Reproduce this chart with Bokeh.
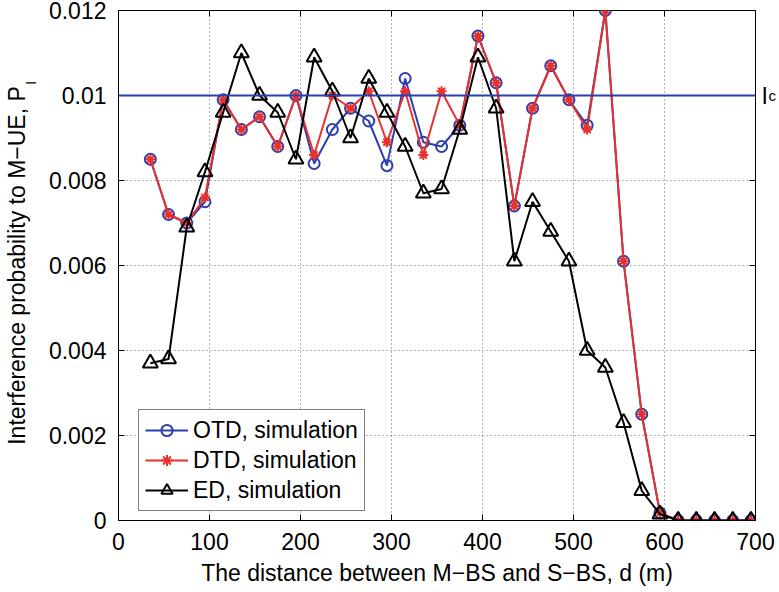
from bokeh.plotting import figure
from bokeh.models import FixedTicker, LinearAxis, Range1d, Span, CustomLabelingPolicy
from bokeh.embed import file_html
from bokeh.resources import INLINE

# ---------------- data ----------------
distance = [35, 55, 75, 95, 115, 135, 155, 175, 195, 215, 235, 255, 275, 295, 315, 335,
            355, 375, 395, 415, 435, 455, 475, 495, 515, 535, 555, 575, 595, 615, 635,
            655, 675, 695]

otd_sim = [0.0085, 0.0072, 0.0070, 0.0075, 0.0099, 0.0092, 0.0095, 0.0088, 0.0100, 0.0084,
           0.0092, 0.0097, 0.0094, 0.00835, 0.0104, 0.0089, 0.0088, 0.0093, 0.0114, 0.0103,
           0.0074, 0.0097, 0.0107, 0.0099, 0.0093, 0.0120, 0.0061, 0.0025, 0.00018, 0.0,
           0.0, 0.0, 0.0, 0.0]

dtd_sim = [0.0085, 0.0072, 0.0070, 0.0076, 0.0099, 0.0092, 0.0095, 0.0088, 0.0100, 0.0086,
           0.0100, 0.0097, 0.0101, 0.0089, 0.0101, 0.0086, 0.0101, 0.0093, 0.0114, 0.0103,
           0.0074, 0.0097, 0.0107, 0.0099, 0.0092, 0.0120, 0.0061, 0.0025, 0.00018, 0.0,
           0.0, 0.0, 0.0, 0.0]

ed_sim = [0.0037, 0.0038, 0.0069, 0.0082, 0.0096, 0.0110, 0.0100, 0.0096, 0.0085, 0.0109,
          0.0101, 0.0090, 0.0104, 0.0096, 0.0088, 0.0077, 0.0078, 0.0092, 0.0109, 0.0097,
          0.0061, 0.0075, 0.0068, 0.0061, 0.0040, 0.0036, 0.0023, 0.0007, 0.00015, 0.0,
          0.0, 0.0, 0.0, 0.0]

ic_threshold = 0.01
ic_label = "I"
ic_subscript = "c"

x_ticks = [0, 100, 200, 300, 400, 500, 600, 700]
x_tick_labels = ["0", "100", "200", "300", "400", "500", "600", "700"]
y_ticks = [0, 0.002, 0.004, 0.006, 0.008, 0.01, 0.012]
y_tick_labels = ["0", "0.002", "0.004", "0.006", "0.008", "0.01", "0.012"]

x_title = "The distance between M\u2212BS and S\u2212BS, d (m)"
y_title = "Interference probability to M\u2212UE, P"
y_title_subscript = "I"

series_names = ["OTD, simulation", "DTD, simulation", "ED, simulation"]

# ---------------- style ----------------
FONT = "Liberation Sans"
FS = "23px"
BLUE = "#2b3fae"
RED = "#e8302c"
BLACK = "#000000"

p = figure(width=779, height=592, output_backend="svg", toolbar_location=None,
           x_range=Range1d(x_ticks[0], x_ticks[-1]), y_range=Range1d(y_ticks[0], y_ticks[-1]),
           min_border_left=117, min_border_right=24, min_border_top=10,
           min_border_bottom=72)

p.background_fill_color = "white"
p.border_fill_color = "white"
p.outline_line_color = BLACK
p.outline_line_width = 1


def style_axis(ax, ticks, labels):
    ax.ticker = FixedTicker(ticks=ticks)
    ax.major_label_overrides = {t: l for t, l in zip(ticks, labels)}
    ax.major_tick_in = 6
    ax.major_tick_out = 0
    ax.minor_tick_line_color = None
    ax.major_label_text_font = FONT
    ax.major_label_text_font_size = FS
    ax.major_label_text_color = BLACK
    ax.axis_label_text_font = FONT
    ax.axis_label_text_font_size = FS
    ax.axis_label_text_font_style = "normal"
    ax.axis_label_text_color = BLACK
    ax.axis_line_color = BLACK
    ax.major_tick_line_color = BLACK


xax = p.xaxis[0]
yax = p.yaxis[0]
style_axis(xax, x_ticks, x_tick_labels)
style_axis(yax, y_ticks, y_tick_labels)
xax.axis_label = x_title
xax.major_label_standoff = 12
xax.axis_label_standoff = 7
yax.major_label_standoff = 12


def text_axis(ticks, labels, size, standoff, orientation="horizontal", baseline=None):
    ax = LinearAxis(ticker=FixedTicker(ticks=ticks),
                    major_label_overrides={t: l for t, l in zip(ticks, labels)},
                    axis_line_color=None, major_tick_line_color=None,
                    minor_tick_line_color=None, major_tick_in=0, major_tick_out=0,
                    major_label_standoff=standoff, major_label_text_font=FONT,
                    major_label_text_font_size=size, major_label_text_color=BLACK,
                    major_label_orientation=orientation)
    if baseline is not None:
        ax.major_label_text_baseline = baseline
    return ax


def tick_only_axis(ticks):
    # mirror axis: inward ticks only, no labels drawn
    return LinearAxis(ticker=FixedTicker(ticks=ticks), major_tick_in=6, major_tick_out=0,
                      minor_tick_line_color=None, axis_line_color=None,
                      major_tick_line_color=BLACK, major_label_standoff=0,
                      major_label_text_font_size="0px",
                      major_label_policy=CustomLabelingPolicy(
                          code="for (const i of indices) indices.unset(i); return indices"))


# y title built from two text-only axes so the subscript can sit beside it
y_mid = (y_ticks[0] + y_ticks[-1]) / 2
sub_axis = text_axis([0.0103], [y_title_subscript], "14px", 7, orientation="vertical")
title_axis = text_axis([y_mid], [y_title], FS, -10, orientation="vertical")
p.left = [yax, sub_axis, title_axis]

# mirror ticks on top and right
p.add_layout(tick_only_axis(x_ticks), "above")
p.add_layout(tick_only_axis(y_ticks), "right")

# I_c label on the right side
ic_axis = text_axis([ic_threshold], [ic_label], FS, 6)
ic_sub_axis = text_axis([ic_threshold], [ic_subscript], "15px", -2, baseline="top")
p.add_layout(ic_axis, "right")
p.add_layout(ic_sub_axis, "right")

# grid
for g in (p.xgrid[0], p.ygrid[0]):
    g.grid_line_color = BLACK
    g.grid_line_alpha = 0.6
    g.grid_line_dash = "1 3"
    g.grid_line_width = 1

# threshold line
p.add_layout(Span(location=ic_threshold, dimension="width", line_color=BLUE, line_width=2))

# series
p.line(distance, otd_sim, line_color=BLUE, line_width=2, legend_label=series_names[0])
p.scatter(distance, otd_sim, marker="circle", size=11, fill_color=None, line_color=BLUE,
          line_width=2, legend_label=series_names[0])

p.line(distance, dtd_sim, line_color=RED, line_width=2, legend_label=series_names[1])
p.scatter(distance, dtd_sim, marker="asterisk", size=10, line_color=RED, line_width=2,
          legend_label=series_names[1])

p.line(distance, ed_sim, line_color=BLACK, line_width=2, legend_label=series_names[2])
p.scatter(distance, ed_sim, marker="triangle", size=15, fill_color=None, line_color=BLACK,
          line_width=2, legend_label=series_names[2])

# legend
lg = p.legend[0]
lg.location = (20, 9)
lg.label_text_font = FONT
lg.label_text_font_size = FS
lg.label_text_color = BLACK
lg.label_height = 28
lg.glyph_height = 28
lg.glyph_width = 43
lg.label_standoff = 5
lg.spacing = 2
lg.padding = 6
lg.margin = 0
lg.border_line_color = BLACK
lg.border_line_width = 1
lg.background_fill_color = "white"
lg.background_fill_alpha = 1.0

open("out.html", "w").write(file_html(p, INLINE))
